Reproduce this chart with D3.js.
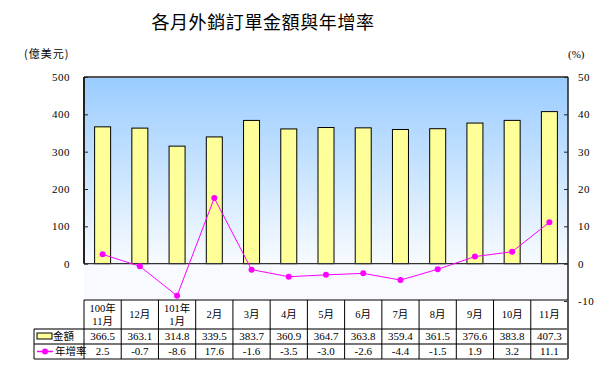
<!DOCTYPE html>
<html>
<head>
<meta charset="utf-8">
<script src="https://cdn.jsdelivr.net/npm/d3@7"></script>
<style>
  body { margin: 0; background: #fff; }
  text { font-family: "Liberation Serif", "Noto Sans CJK TC", serif; }
</style>
</head>
<body>
<svg id="chart"></svg>
<script>
const months = ["100年\n11月", "12月", "101年\n1月", "2月", "3月", "4月", "5月", "6月", "7月", "8月", "9月", "10月", "11月"];
const amount = [366.5, 363.1, 314.8, 339.5, 383.7, 360.9, 364.7, 363.8, 359.4, 361.5, 376.6, 383.8, 407.3];
const growth = [2.5, -0.7, -8.6, 17.6, -1.6, -3.5, -3.0, -2.6, -4.4, -1.5, 1.9, 3.2, 11.1];
const leftTicks = [0, 100, 200, 300, 400, 500];
const rightTicks = [-10, 0, 10, 20, 30, 40, 50];

const wSvg = 608;
const hSvg = 370;
const margin = { top: 77, left: 84, right: 40, bottom: 301 };
const plotRight = wSvg - margin.right;

const svg = d3.select("#chart")
  .attr("width", wSvg)
  .attr("height", hSvg);

const x = d3.scaleBand()
  .domain(months)
  .range([margin.left, plotRight]);

const yL = d3.scaleLinear()
  .domain([-100, 500])
  .range([margin.bottom, margin.top]);

const yR = d3.scaleLinear()
  .domain([-10, 50])
  .range([margin.bottom, margin.top]);

// hyphen instead of unicode minus, like the original
const fmt1 = v => v.toFixed(1);

// background
const defs = svg.append("defs");
const grad = defs.append("linearGradient")
  .attr("id", "bg")
  .attr("x1", 0).attr("y1", 0).attr("x2", 0).attr("y2", 1);
grad.append("stop").attr("offset", "0%").attr("stop-color", "#99ccff");
grad.append("stop").attr("offset", "100%").attr("stop-color", "#f8fbff");

svg.append("rect")
  .attr("x", margin.left)
  .attr("y", yL(500))
  .attr("width", plotRight - margin.left)
  .attr("height", yL(0) - yL(500))
  .attr("fill", "url(#bg)");

svg.append("rect")
  .attr("x", margin.left)
  .attr("y", yL(0))
  .attr("width", plotRight - margin.left)
  .attr("height", yL(-100) - yL(0))
  .attr("fill", "#f8faff");

// title
svg.append("text")
  .attr("x", 263)
  .attr("y", 29)
  .attr("text-anchor", "middle")
  .attr("font-size", 18)
  .attr("font-weight", 400)
  .style("font-family", "'Noto Sans CJK TC'")
  .style("letter-spacing", "0.6px")
  .text("各月外銷訂單金額與年增率");

svg.append("text")
  .attr("x", 24).attr("y", 58)
  .attr("font-size", 11)
  .style("font-family", "'Noto Sans CJK TC'")
  .style("letter-spacing", "1px")
  .text("(億美元)");

svg.append("text")
  .attr("x", 568).attr("y", 58)
  .attr("font-size", 11)
  .text("(%)");

// bars
const bw = 16;
svg.append("g")
  .selectAll("rect")
  .data(amount)
  .enter()
  .append("rect")
  .attr("x", (d, i) => x(months[i]) + x.bandwidth() / 2 - bw / 2)
  .attr("y", d => yL(d))
  .attr("width", bw)
  .attr("height", d => yL(0) - yL(d))
  .attr("fill", "#ffff99")
  .attr("stroke", "#000")
  .attr("stroke-width", 1);

// frame lines
svg.append("line")
  .attr("x1", margin.left).attr("x2", plotRight)
  .attr("y1", yL(500)).attr("y2", yL(500))
  .attr("stroke", "#555").attr("stroke-width", 2);
svg.append("line")
  .attr("x1", margin.left).attr("x2", plotRight)
  .attr("y1", yL(0)).attr("y2", yL(0))
  .attr("stroke", "#333").attr("stroke-width", 1.2);

// axes
const axL = svg.append("g")
  .attr("transform", `translate(${margin.left}, 0)`)
  .call(d3.axisLeft(yL).tickValues(leftTicks).tickSize(-4).tickPadding(14));
axL.select(".domain").attr("d", `M0,${yL(0)}V${yL(500)}`).attr("stroke", "#222").attr("stroke-width", 2);

const axR = svg.append("g")
  .attr("transform", `translate(${plotRight}, 0)`)
  .call(d3.axisRight(yR).tickValues(rightTicks).tickSize(-4).tickPadding(10).tickFormat(d => String(d)));
axR.select(".domain").attr("d", `M0,${yR(-10)}V${yR(50)}`).attr("stroke", "#222").attr("stroke-width", 1.5);

svg.selectAll(".tick text")
  .attr("font-size", 11)
  .style("font-family", "'Liberation Serif'")
  .style("letter-spacing", "0.5px")
  .attr("fill", "#000");
svg.selectAll(".tick line").attr("stroke", "#222");

// growth line
const line = d3.line()
  .x((d, i) => x(months[i]) + x.bandwidth() / 2)
  .y(d => yR(d));

svg.append("path")
  .datum(growth)
  .attr("d", line)
  .attr("fill", "none")
  .attr("stroke", "#ff00ff")
  .attr("stroke-width", 1);

svg.append("g")
  .selectAll("circle")
  .data(growth)
  .enter()
  .append("circle")
  .attr("cx", (d, i) => x(months[i]) + x.bandwidth() / 2)
  .attr("cy", d => yR(d))
  .attr("r", 3)
  .attr("fill", "#ff00ff");

// data table
const rows = [300, 329, 344, 359];
const legendLeft = 34;
const tbl = svg.append("g");

// horizontal lines
tbl.append("line")
  .attr("x1", margin.left).attr("x2", plotRight)
  .attr("y1", rows[0]).attr("y2", rows[0])
  .attr("stroke", "#000").attr("stroke-width", 1);
[rows[1], rows[2], rows[3]].forEach((yy, k) => {
  tbl.append("line")
    .attr("x1", legendLeft).attr("x2", plotRight)
    .attr("y1", yy).attr("y2", yy)
    .attr("stroke", k === 2 ? "#000" : "#777").attr("stroke-width", k === 2 ? 1 : 2);
});

// vertical lines
tbl.append("line")
  .attr("x1", legendLeft).attr("x2", legendLeft)
  .attr("y1", rows[1]).attr("y2", rows[3])
  .attr("stroke", "#000");
months.forEach(m => {
  tbl.append("line")
    .attr("x1", x(m)).attr("x2", x(m))
    .attr("y1", rows[0]).attr("y2", rows[3])
    .attr("stroke", "#000");
});
tbl.append("line")
  .attr("x1", plotRight).attr("x2", plotRight)
  .attr("y1", rows[0]).attr("y2", rows[3])
  .attr("stroke", "#555").attr("stroke-width", 2);

// header
months.forEach(m => {
  const parts = m.split("\n");
  const cx = x(m) + x.bandwidth() / 2;
  parts.forEach((p, k) => {
    tbl.append("text")
      .attr("x", cx)
      .attr("y", parts.length === 2 ? 312 + k * 13 : 318)
      .attr("text-anchor", "middle")
      .attr("font-size", 10.5)
      .text(p);
  });
});

// values
amount.forEach((v, i) => {
  tbl.append("text")
    .attr("x", x(months[i]) + x.bandwidth() / 2)
    .attr("y", 340)
    .attr("text-anchor", "middle")
    .attr("font-size", 11)
    .text(fmt1(v));
});
growth.forEach((v, i) => {
  tbl.append("text")
    .attr("x", x(months[i]) + x.bandwidth() / 2)
    .attr("y", 355)
    .attr("text-anchor", "middle")
    .attr("font-size", 11)
    .text(fmt1(v));
});

// legend cells
tbl.append("rect")
  .attr("x", 37).attr("y", 333)
  .attr("width", 15).attr("height", 6)
  .attr("fill", "#ffff99").attr("stroke", "#000");
tbl.append("text")
  .attr("x", 53).attr("y", 340)
  .attr("font-size", 10.5)
  .style("font-family", "'Noto Sans CJK TC'")
  .text("金額");
tbl.append("line")
  .attr("x1", 37).attr("x2", 53)
  .attr("y1", 351.5).attr("y2", 351.5)
  .attr("stroke", "#ff00ff").attr("stroke-width", 1.5);
tbl.append("circle")
  .attr("cx", 45).attr("cy", 351.5).attr("r", 3)
  .attr("fill", "#ff00ff");
tbl.append("text")
  .attr("x", 55).attr("y", 355)
  .attr("font-size", 10.5)
  .style("font-family", "'Noto Sans CJK TC'")
  .text("年增率");
</script>
</body>
</html>
